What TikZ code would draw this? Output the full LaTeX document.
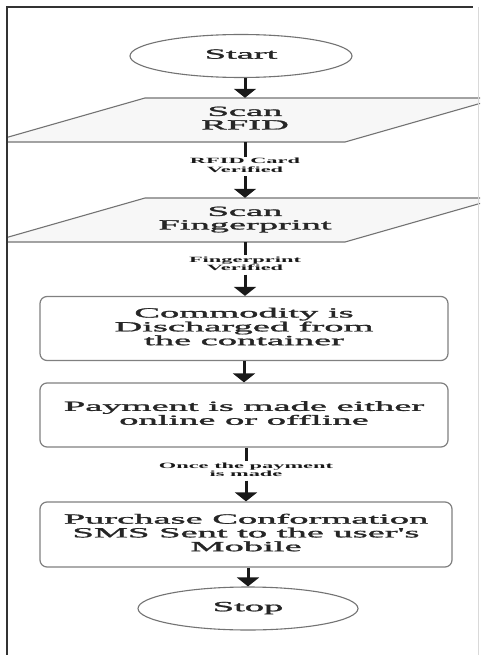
\documentclass[tikz,border=0pt]{standalone}
\usepackage{fontspec}
\setmainfont{Liberation Serif}
\newfontfamily\heavyfont{Liberation Serif}[FakeBold=1.2]
\usepackage{graphicx}
\usetikzlibrary{arrows.meta,calc,shapes.geometric}
\newcommand{\wtxt}[1]{\scalebox{2.75}[1]{\begin{tabular}{@{}c@{}}#1\end{tabular}}}
\begin{document}
\begin{tikzpicture}[x=1pt,y=-1pt,
  txt/.style={text=black!85, font=\heavyfont\fontsize{14}{13.5}\selectfont, inner sep=0pt, align=center},
  lbl/.style={text=black!90, font=\fontsize{8}{8.5}\selectfont\bfseries, inner sep=1pt},
  term/.style={txt, ellipse, draw=black!55, line width=1.1pt, fill=white, minimum width=222pt, minimum height=43pt},
  proc/.style={txt, rectangle, rounded corners=7pt, draw=black!50, line width=1.2pt, fill=white, minimum width=408pt, minimum height=64pt},
  io/.style={txt, rectangle, minimum width=200pt, minimum height=44pt},
  para/.style={draw=black!55, line width=1.1pt, fill=black!3},
  ln/.style={line width=3pt, black!90},
  arr/.style={ln, -{Triangle[width=22pt,length=9pt]}}
]
\useasboundingbox (0,0) rectangle (480,655);
\fill[white] (0,0) rectangle (480,655);

% parallelogram outlines (clipped by the frame), then the I/O nodes on top
\begin{scope}
  \clip (8,0) rectangle (480,655);
  \foreach \cy in {120,220}{
    \filldraw[para] (245-254,\cy+22) -- (245-100,\cy-22)
      -- (245+254,\cy-22) -- (245+100,\cy+22) -- cycle;
  }
\end{scope}
\node[io] (rfid) at (245,120) {\wtxt{Scan\\RFID}};
\node[io] (fp) at (245,220) {\wtxt{Scan\\Fingerprint}};

\node[term] (start) at (241,56) {\wtxt{Start}};
\node[lbl] (l1) at (245,166.5) {\scalebox{2.8}[1]{\begin{tabular}{@{}c@{}}RFID Card\\Verified\end{tabular}}};
\node[lbl] (l2) at (245,265) {\scalebox{2.8}[1]{\begin{tabular}{@{}c@{}}Fingerprint\\Verified\end{tabular}}};
\node[proc] (com) at (244,328.5) {\wtxt{Commodity is\\Discharged from\\the container}};
\node[proc] (pay) at (244,415) {\wtxt{Payment is made either\\online or offline}};
\node[lbl] (l3) at (246,471) {\scalebox{2.8}[1]{\begin{tabular}{@{}c@{}}Once the payment\\is made\end{tabular}}};
\node[proc, minimum width=412pt, minimum height=65pt] (pur) at (246,534.5) {\wtxt{Purchase Conformation\\SMS Sent to the user's\\Mobile}};
\node[term, minimum width=220pt] (stop) at (248,608.5) {\wtxt{Stop}};

% connectors
\draw[arr] (start.south -| rfid.north) -- (rfid.north);
\draw[ln] (rfid.south) -- (l1.north);
\draw[arr] (l1.south) -- (fp.north);
\draw[ln] (fp.south) -- (l2.north);
\draw[arr] (l2.south) -- (l2.south |- com.north);
\draw[arr] (com.south) -- (pay.north);
\draw[ln] (pay.south -| l3.north) -- (l3.north);
\draw[arr] (l3.south) -- (l3.south |- pur.north);
\draw[arr] (pur.south -| stop.north) -- (stop.north);

% frame
\draw[line width=2pt, black!80] (7,655) -- (7,7) -- (473,7);
\draw[line width=1pt, black!15] (478,7) -- (478,655);
\end{tikzpicture}
\end{document}
